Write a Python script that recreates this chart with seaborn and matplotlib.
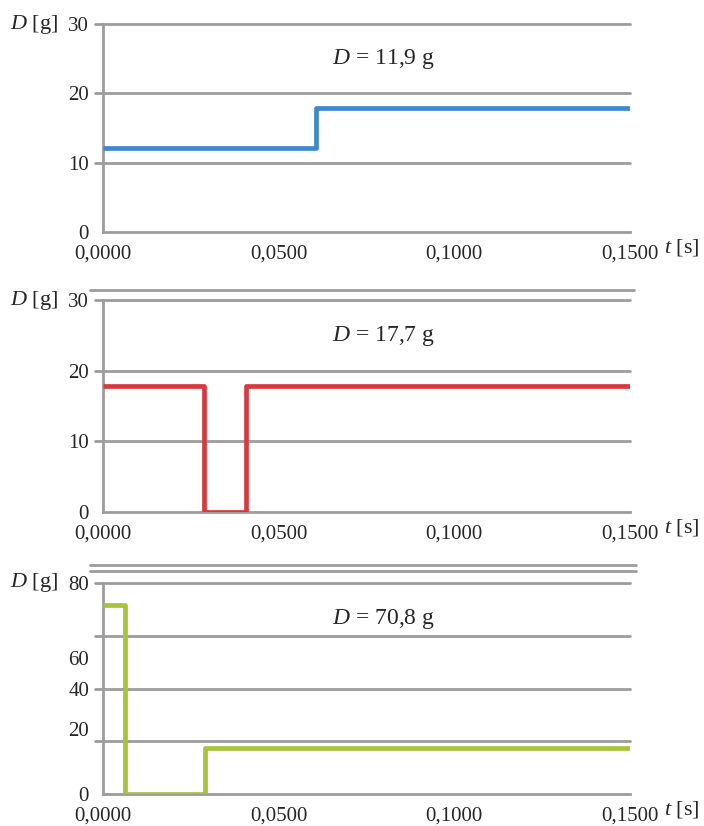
import matplotlib
matplotlib.use("Agg")
import matplotlib.pyplot as plt
import seaborn as sns
import pandas as pd
from matplotlib.lines import Line2D

# step change points, values held until next point
t1 = [0.0, 0.0606, 0.150]
d1 = [12.1, 17.9, 17.9]
label1 = "11,9"

t2 = [0.0, 0.0287, 0.0407, 0.150]
d2 = [17.9, 0.0, 17.9, 17.9]
label2 = "17,7"

t3 = [0.0, 0.0063, 0.0290, 0.150]
d3 = [71.5, 0.0, 17.4, 17.4]
label3 = "70,8"

x_ticks = [0.0, 0.05, 0.10, 0.15]
x_labels = ["0,0000", "0,0500", "0,1000", "0,1500"]

y_grid1 = [0, 10, 20, 30]
y_grid3 = [0, 20, 40, 60, 80]
# the labels of the last panel sit off the grid lines in the original
y_lab3_pos = [0, 24.8, 40, 51.4, 80]
y_lab3 = ["0", "20", "40", "60", "80"]

colors = ["#3f88cc", "#d63a3e", "#a7c23c"]
grid_c = "#9c9c9c"

sns.set_style("white")
plt.rcParams["font.family"] = ["Liberation Serif", "DejaVu Serif"]
plt.rcParams["mathtext.fontset"] = "custom"
plt.rcParams["mathtext.it"] = "Liberation Serif:italic"
plt.rcParams["mathtext.rm"] = "Liberation Serif"

fig = plt.figure(figsize=(7.04, 8.26), dpi=100)
W, H = 704, 826
left, right = 103 / W, 630 / W
boxes = [(24, 232), (300, 512), (583, 794)]

panels = [
    (t1, d1, label1, 30),
    (t2, d2, label2, 30),
    (t3, d3, label3, 80),
]

for i, ((t, d, lab, ymax), (top, bot), col) in enumerate(zip(panels, boxes, colors)):
    ax = fig.add_axes([left, 1 - bot / H, right - left, (bot - top) / H])
    df = pd.DataFrame({"t": t, "D": d})
    sns.lineplot(data=df, x="t", y="D", ax=ax, color=col, linewidth=3.4,
                 drawstyle="steps-post", solid_capstyle="butt", zorder=3)
    ax.set_xlim(0, 0.15)
    ax.set_ylim(0, ymax)
    ax.set_xlabel("")
    ax.set_ylabel("")

    grid = y_grid1 if ymax == 30 else y_grid3
    for g in grid[1:]:
        ax.plot([-0.0023, 0.15], [g, g], color=grid_c, lw=2.0, clip_on=False, zorder=1)

    ax.set_xticks(x_ticks)
    ax.set_xticklabels(x_labels, fontsize=15)
    if ymax == 30:
        ax.set_yticks(grid)
        ax.set_yticklabels([str(g) for g in grid], fontsize=15)
        ax.tick_params(axis="y", direction="out", length=5, width=2, color=grid_c, pad=5)
    else:
        ax.set_yticks(y_lab3_pos)
        ax.set_yticklabels(y_lab3, fontsize=15)
        ax.tick_params(axis="y", length=0, pad=10)
    ax.tick_params(axis="x", direction="out", length=5, width=2, color=grid_c, pad=4)

    sns.despine(ax=ax, top=True, right=True)
    for s in ["left", "bottom"]:
        ax.spines[s].set_color(grid_c)
        ax.spines[s].set_linewidth(2.0)

    ax.text(0.533, 0.83, r"$D$ = " + lab + " g", transform=ax.transAxes,
            ha="center", va="center", fontsize=17)
    ax.text(-0.13, 1.0, r"$D$ [g]", transform=ax.transAxes,
            ha="center", va="center", fontsize=16)
    ax.text(1.098, -0.075, r"$t$ [s]", transform=ax.transAxes,
            ha="center", va="center", fontsize=16)

# separator lines between the stacked charts
for y in [290]:
    fig.add_artist(Line2D([90 / W, 634 / W], [1 - y / H] * 2, color=grid_c, lw=2.0))
for y in [565, 571]:
    fig.add_artist(Line2D([90 / W, 636 / W], [1 - y / H] * 2, color=grid_c, lw=2.0))

fig.savefig("out.png", dpi=100)
